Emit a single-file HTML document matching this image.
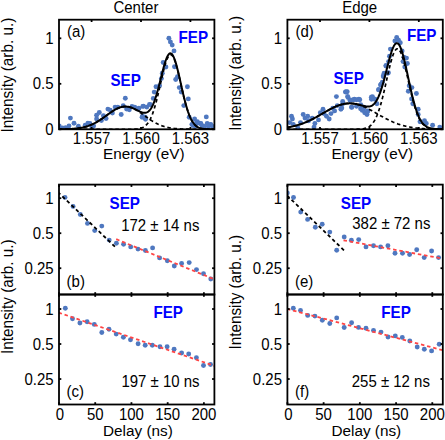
<!DOCTYPE html>
<html><head><meta charset="utf-8"><style>
html,body{margin:0;padding:0;background:#fff;width:445px;height:440px;overflow:hidden}
svg{display:block}
text{font-family:"Liberation Sans", sans-serif}
</style></head><body>
<svg width="445" height="440" viewBox="0 0 445 440">
<rect width="445" height="440" fill="#fff"/>
<text transform="translate(135.90,13.00) scale(1,1.12)" font-size="15" text-anchor="middle" fill="#000" >Center</text>
<text transform="translate(359.65,12.60) scale(1,1.12)" font-size="15" text-anchor="middle" fill="#000" >Edge</text>
<clipPath id="clipS0"><rect x="59.0" y="19.7" width="155.4" height="109.60000000000001"/></clipPath>
<g clip-path="url(#clipS0)">
<circle cx="59.2" cy="125.9" r="2.45" fill="#4f78c0"/>
<circle cx="62.3" cy="128.0" r="2.45" fill="#4f78c0"/>
<circle cx="65.6" cy="127.6" r="2.45" fill="#4f78c0"/>
<circle cx="69.0" cy="125.9" r="2.45" fill="#4f78c0"/>
<circle cx="70.4" cy="118.1" r="2.45" fill="#4f78c0"/>
<circle cx="74.0" cy="123.3" r="2.45" fill="#4f78c0"/>
<circle cx="78.4" cy="126.2" r="2.45" fill="#4f78c0"/>
<circle cx="85.2" cy="125.3" r="2.45" fill="#4f78c0"/>
<circle cx="87.9" cy="123.3" r="2.45" fill="#4f78c0"/>
<circle cx="89.9" cy="123.5" r="2.45" fill="#4f78c0"/>
<circle cx="91.9" cy="128.0" r="2.45" fill="#4f78c0"/>
<circle cx="93.6" cy="125.9" r="2.45" fill="#4f78c0"/>
<circle cx="96.6" cy="115.2" r="2.45" fill="#4f78c0"/>
<circle cx="99.3" cy="112.5" r="2.45" fill="#4f78c0"/>
<circle cx="96.6" cy="118.9" r="2.45" fill="#4f78c0"/>
<circle cx="101.4" cy="120.6" r="2.45" fill="#4f78c0"/>
<circle cx="103.4" cy="115.8" r="2.45" fill="#4f78c0"/>
<circle cx="106.1" cy="118.5" r="2.45" fill="#4f78c0"/>
<circle cx="107.9" cy="109.1" r="2.45" fill="#4f78c0"/>
<circle cx="110.2" cy="110.1" r="2.45" fill="#4f78c0"/>
<circle cx="112.4" cy="113.1" r="2.45" fill="#4f78c0"/>
<circle cx="115.1" cy="107.1" r="2.45" fill="#4f78c0"/>
<circle cx="117.8" cy="107.1" r="2.45" fill="#4f78c0"/>
<circle cx="121.2" cy="114.5" r="2.45" fill="#4f78c0"/>
<circle cx="123.2" cy="105.7" r="2.45" fill="#4f78c0"/>
<circle cx="125.3" cy="98.3" r="2.45" fill="#4f78c0"/>
<circle cx="126.6" cy="109.1" r="2.45" fill="#4f78c0"/>
<circle cx="129.3" cy="109.8" r="2.45" fill="#4f78c0"/>
<circle cx="132.0" cy="106.4" r="2.45" fill="#4f78c0"/>
<circle cx="134.7" cy="107.1" r="2.45" fill="#4f78c0"/>
<circle cx="138.1" cy="109.1" r="2.45" fill="#4f78c0"/>
<circle cx="138.9" cy="108.3" r="2.45" fill="#4f78c0"/>
<circle cx="142.8" cy="106.4" r="2.45" fill="#4f78c0"/>
<circle cx="142.1" cy="117.2" r="2.45" fill="#4f78c0"/>
<circle cx="143.4" cy="106.1" r="2.45" fill="#4f78c0"/>
<circle cx="145.2" cy="117.2" r="2.45" fill="#4f78c0"/>
<circle cx="146.8" cy="107.1" r="2.45" fill="#4f78c0"/>
<circle cx="149.5" cy="104.4" r="2.45" fill="#4f78c0"/>
<circle cx="145.5" cy="119.2" r="2.45" fill="#4f78c0"/>
<circle cx="150.6" cy="104.7" r="2.45" fill="#4f78c0"/>
<circle cx="153.3" cy="98.4" r="2.45" fill="#4f78c0"/>
<circle cx="154.2" cy="92.1" r="2.45" fill="#4f78c0"/>
<circle cx="156.0" cy="86.7" r="2.45" fill="#4f78c0"/>
<circle cx="159.6" cy="85.8" r="2.45" fill="#4f78c0"/>
<circle cx="161.4" cy="78.6" r="2.45" fill="#4f78c0"/>
<circle cx="162.3" cy="73.2" r="2.45" fill="#4f78c0"/>
<circle cx="163.2" cy="62.5" r="2.45" fill="#4f78c0"/>
<circle cx="165.9" cy="67.0" r="2.45" fill="#4f78c0"/>
<circle cx="168.9" cy="38.3" r="2.45" fill="#4f78c0"/>
<circle cx="170.4" cy="41.9" r="2.45" fill="#4f78c0"/>
<circle cx="172.2" cy="45.1" r="2.45" fill="#4f78c0"/>
<circle cx="174.0" cy="50.9" r="2.45" fill="#4f78c0"/>
<circle cx="174.5" cy="66.7" r="2.45" fill="#4f78c0"/>
<circle cx="175.7" cy="79.5" r="2.45" fill="#4f78c0"/>
<circle cx="177.5" cy="76.8" r="2.45" fill="#4f78c0"/>
<circle cx="179.3" cy="87.6" r="2.45" fill="#4f78c0"/>
<circle cx="181.2" cy="92.1" r="2.45" fill="#4f78c0"/>
<circle cx="187.4" cy="86.7" r="2.45" fill="#4f78c0"/>
<circle cx="188.3" cy="98.9" r="2.45" fill="#4f78c0"/>
<circle cx="183.8" cy="105.6" r="2.45" fill="#4f78c0"/>
<circle cx="189.2" cy="117.2" r="2.45" fill="#4f78c0"/>
<circle cx="194.6" cy="119.0" r="2.45" fill="#4f78c0"/>
<circle cx="197.3" cy="121.7" r="2.45" fill="#4f78c0"/>
<circle cx="200.9" cy="123.5" r="2.45" fill="#4f78c0"/>
<circle cx="206.3" cy="116.9" r="2.45" fill="#4f78c0"/>
<circle cx="207.2" cy="123.5" r="2.45" fill="#4f78c0"/>
<circle cx="210.8" cy="124.4" r="2.45" fill="#4f78c0"/>
<circle cx="191.9" cy="124.4" r="2.45" fill="#4f78c0"/>
<circle cx="142.5" cy="116.3" r="2.45" fill="#4f78c0"/>
<circle cx="193.1" cy="125.6" r="2.45" fill="#4f78c0"/>
<circle cx="199.6" cy="123.2" r="2.45" fill="#4f78c0"/>
<circle cx="202.0" cy="125.6" r="2.45" fill="#4f78c0"/>
<circle cx="204.5" cy="126.4" r="2.45" fill="#4f78c0"/>
<circle cx="210.1" cy="124.8" r="2.45" fill="#4f78c0"/>
<circle cx="212.6" cy="126.4" r="2.45" fill="#4f78c0"/>
<circle cx="196.4" cy="123.2" r="2.45" fill="#4f78c0"/>
<circle cx="195.6" cy="126.4" r="2.45" fill="#4f78c0"/>
<circle cx="208.5" cy="126.4" r="2.45" fill="#4f78c0"/>
<polyline points="58.65,129.25 59.17,129.25 59.69,129.24 60.21,129.24 60.74,129.23 61.26,129.23 61.78,129.22 62.30,129.21 62.82,129.20 63.34,129.19 63.87,129.18 64.39,129.17 64.91,129.16 65.43,129.15 65.95,129.13 66.47,129.12 66.99,129.10 67.52,129.09 68.04,129.07 68.56,129.05 69.08,129.02 69.60,129.00 70.12,128.98 70.65,128.95 71.17,128.92 71.69,128.89 72.21,128.86 72.73,128.82 73.25,128.78 73.77,128.74 74.30,128.70 74.82,128.65 75.34,128.60 75.86,128.55 76.38,128.50 76.90,128.44 77.43,128.37 77.95,128.31 78.47,128.24 78.99,128.16 79.51,128.08 80.03,128.00 80.56,127.91 81.08,127.82 81.60,127.72 82.12,127.62 82.64,127.51 83.16,127.40 83.68,127.28 84.21,127.15 84.73,127.02 85.25,126.88 85.77,126.74 86.29,126.59 86.81,126.43 87.34,126.27 87.86,126.09 88.38,125.92 88.90,125.73 89.42,125.54 89.94,125.34 90.46,125.13 90.99,124.91 91.51,124.69 92.03,124.46 92.55,124.22 93.07,123.98 93.59,123.72 94.12,123.46 94.64,123.19 95.16,122.92 95.68,122.63 96.20,122.34 96.72,122.04 97.24,121.74 97.77,121.42 98.29,121.10 98.81,120.78 99.33,120.45 99.85,120.11 100.37,119.77 100.90,119.42 101.42,119.06 101.94,118.70 102.46,118.34 102.98,117.98 103.50,117.61 104.02,117.23 104.55,116.86 105.07,116.48 105.59,116.10 106.11,115.72 106.63,115.34 107.15,114.96 107.68,114.58 108.20,114.21 108.72,113.83 109.24,113.46 109.76,113.09 110.28,112.72 110.80,112.36 111.33,112.01 111.85,111.66 112.37,111.31 112.89,110.98 113.41,110.65 113.93,110.33 114.46,110.02 114.98,109.72 115.50,109.43 116.02,109.15 116.54,108.88 117.06,108.63 117.59,108.39 118.11,108.16 118.63,107.94 119.15,107.74 119.67,107.55 120.19,107.38 120.71,107.22 121.24,107.08 121.76,106.96 122.28,106.85 122.80,106.76 123.32,106.68 123.84,106.62 124.37,106.58 124.89,106.56 125.41,106.55 125.93,106.56 126.45,106.59 126.97,106.63 127.49,106.69 128.02,106.77 128.54,106.87 129.06,106.98 129.58,107.11 130.10,107.25 130.62,107.41 131.15,107.59 131.67,107.78 132.19,107.98 132.71,108.20 133.23,108.44 133.75,108.68 134.27,108.94 134.80,109.21 135.32,109.49 135.84,109.78 136.36,110.08 136.88,110.40 137.40,110.72 137.93,111.05 138.45,111.39 138.97,111.73 139.49,112.08 140.01,112.44 140.53,112.80 141.05,113.17 141.58,113.54 142.10,113.91 142.62,114.28 143.14,114.66 143.66,115.04 144.18,115.42 144.71,115.80 145.23,116.18 145.75,116.56 146.27,116.94 146.79,117.31 147.31,117.68 147.84,118.05 148.36,118.42 148.88,118.78 149.40,119.14 149.92,119.49 150.44,119.84 150.96,120.18 151.49,120.52 152.01,120.85 152.53,121.17 153.05,121.49 153.57,121.80 154.09,122.11 154.62,122.40 155.14,122.69 155.66,122.97 156.18,123.25 156.70,123.52 157.22,123.78 157.74,124.03 158.27,124.27 158.79,124.51 159.31,124.74 159.83,124.96 160.35,125.17 160.87,125.38 161.40,125.58 161.92,125.77 162.44,125.95 162.96,126.13 163.48,126.30 164.00,126.46 164.52,126.62 165.05,126.77 165.57,126.91 166.09,127.05 166.61,127.18 167.13,127.30 167.65,127.42 168.18,127.53 168.70,127.64 169.22,127.74 169.74,127.84 170.26,127.93 170.78,128.02 171.30,128.10 171.83,128.18 172.35,128.25 172.87,128.32 173.39,128.39 173.91,128.45 174.43,128.51 174.96,128.56 175.48,128.61 176.00,128.66 176.52,128.71 177.04,128.75 177.56,128.79 178.08,128.83 178.61,128.86 179.13,128.90 179.65,128.93 180.17,128.95 180.69,128.98 181.21,129.01 181.74,129.03 182.26,129.05 182.78,129.07 183.30,129.09 183.82,129.11 184.34,129.12 184.87,129.14 185.39,129.15 185.91,129.16 186.43,129.17 186.95,129.19 187.47,129.19 187.99,129.20 188.52,129.21 189.04,129.22 189.56,129.23 190.08,129.23 190.60,129.24 191.12,129.25 191.65,129.25 192.17,129.25 192.69,129.26 193.21,129.26 193.73,129.27 194.25,129.27 194.77,129.27 195.30,129.28 195.82,129.28 196.34,129.28 196.86,129.28 197.38,129.28 197.90,129.29 198.43,129.29 198.95,129.29 199.47,129.29 199.99,129.29 200.51,129.29 201.03,129.29 201.55,129.29 202.08,129.29 202.60,129.29 203.12,129.30 203.64,129.30 204.16,129.30 204.68,129.30 205.21,129.30 205.73,129.30 206.25,129.30 206.77,129.30 207.29,129.30 207.81,129.30 208.33,129.30 208.86,129.30 209.38,129.30 209.90,129.30 210.42,129.30 210.94,129.30 211.46,129.30 211.99,129.30 212.51,129.30 213.03,129.30 213.55,129.30 214.07,129.30 214.59,129.30 215.11,129.30" fill="none" stroke="#000" stroke-width="1.7" stroke-dasharray="3.5,2.8" />
<polyline points="58.65,129.30 59.17,129.30 59.69,129.30 60.21,129.30 60.74,129.30 61.26,129.30 61.78,129.30 62.30,129.30 62.82,129.30 63.34,129.30 63.87,129.30 64.39,129.30 64.91,129.30 65.43,129.30 65.95,129.30 66.47,129.30 66.99,129.30 67.52,129.30 68.04,129.30 68.56,129.30 69.08,129.30 69.60,129.30 70.12,129.30 70.65,129.30 71.17,129.30 71.69,129.30 72.21,129.30 72.73,129.30 73.25,129.30 73.77,129.30 74.30,129.30 74.82,129.30 75.34,129.30 75.86,129.30 76.38,129.30 76.90,129.30 77.43,129.30 77.95,129.30 78.47,129.30 78.99,129.30 79.51,129.30 80.03,129.30 80.56,129.30 81.08,129.30 81.60,129.30 82.12,129.30 82.64,129.30 83.16,129.30 83.68,129.30 84.21,129.30 84.73,129.30 85.25,129.30 85.77,129.30 86.29,129.30 86.81,129.30 87.34,129.30 87.86,129.30 88.38,129.30 88.90,129.30 89.42,129.30 89.94,129.30 90.46,129.30 90.99,129.30 91.51,129.30 92.03,129.30 92.55,129.30 93.07,129.30 93.59,129.30 94.12,129.30 94.64,129.30 95.16,129.30 95.68,129.30 96.20,129.30 96.72,129.30 97.24,129.30 97.77,129.30 98.29,129.30 98.81,129.30 99.33,129.30 99.85,129.30 100.37,129.30 100.90,129.30 101.42,129.30 101.94,129.30 102.46,129.30 102.98,129.30 103.50,129.30 104.02,129.30 104.55,129.30 105.07,129.30 105.59,129.30 106.11,129.30 106.63,129.30 107.15,129.30 107.68,129.30 108.20,129.30 108.72,129.30 109.24,129.30 109.76,129.30 110.28,129.30 110.80,129.30 111.33,129.30 111.85,129.30 112.37,129.30 112.89,129.30 113.41,129.30 113.93,129.30 114.46,129.30 114.98,129.30 115.50,129.30 116.02,129.30 116.54,129.30 117.06,129.30 117.59,129.30 118.11,129.30 118.63,129.30 119.15,129.30 119.67,129.30 120.19,129.30 120.71,129.30 121.24,129.30 121.76,129.30 122.28,129.30 122.80,129.30 123.32,129.30 123.84,129.30 124.37,129.30 124.89,129.30 125.41,129.30 125.93,129.29 126.45,129.29 126.97,129.29 127.49,129.29 128.02,129.29 128.54,129.28 129.06,129.28 129.58,129.28 130.10,129.27 130.62,129.27 131.15,129.26 131.67,129.25 132.19,129.24 132.71,129.22 133.23,129.21 133.75,129.19 134.27,129.17 134.80,129.14 135.32,129.11 135.84,129.08 136.36,129.03 136.88,128.98 137.40,128.93 137.93,128.86 138.45,128.78 138.97,128.69 139.49,128.59 140.01,128.47 140.53,128.34 141.05,128.18 141.58,128.00 142.10,127.80 142.62,127.57 143.14,127.32 143.66,127.03 144.18,126.70 144.71,126.34 145.23,125.93 145.75,125.48 146.27,124.98 146.79,124.43 147.31,123.82 147.84,123.14 148.36,122.41 148.88,121.61 149.40,120.73 149.92,119.79 150.44,118.76 150.96,117.65 151.49,116.47 152.01,115.19 152.53,113.84 153.05,112.39 153.57,110.86 154.09,109.24 154.62,107.54 155.14,105.75 155.66,103.89 156.18,101.94 156.70,99.93 157.22,97.85 157.74,95.71 158.27,93.52 158.79,91.28 159.31,89.01 159.83,86.71 160.35,84.41 160.87,82.10 161.40,79.80 161.92,77.52 162.44,75.28 162.96,73.09 163.48,70.96 164.00,68.91 164.52,66.95 165.05,65.10 165.57,63.36 166.09,61.75 166.61,60.28 167.13,58.97 167.65,57.82 168.18,56.83 168.70,56.03 169.22,55.41 169.74,54.97 170.26,54.73 170.78,54.69 171.30,54.84 171.83,55.18 172.35,55.71 172.87,56.43 173.39,57.33 173.91,58.40 174.43,59.64 174.96,61.04 175.48,62.58 176.00,64.26 176.52,66.06 177.04,67.97 177.56,69.98 178.08,72.07 178.61,74.23 179.13,76.45 179.65,78.71 180.17,81.00 180.69,83.31 181.21,85.62 181.74,87.92 182.26,90.21 182.78,92.46 183.30,94.68 183.82,96.84 184.34,98.95 184.87,101.00 185.39,102.98 185.91,104.88 186.43,106.70 186.95,108.45 187.47,110.10 187.99,111.68 188.52,113.16 189.04,114.56 189.56,115.87 190.08,117.10 190.60,118.25 191.12,119.31 191.65,120.29 192.17,121.20 192.69,122.04 193.21,122.80 193.73,123.51 194.25,124.14 194.77,124.72 195.30,125.25 195.82,125.72 196.34,126.15 196.86,126.53 197.38,126.88 197.90,127.18 198.43,127.46 198.95,127.70 199.47,127.91 199.99,128.10 200.51,128.26 201.03,128.41 201.55,128.54 202.08,128.65 202.60,128.74 203.12,128.82 203.64,128.90 204.16,128.96 204.68,129.01 205.21,129.06 205.73,129.10 206.25,129.13 206.77,129.16 207.29,129.18 207.81,129.20 208.33,129.22 208.86,129.23 209.38,129.24 209.90,129.25 210.42,129.26 210.94,129.27 211.46,129.27 211.99,129.28 212.51,129.28 213.03,129.29 213.55,129.29 214.07,129.29 214.59,129.29 215.11,129.29" fill="none" stroke="#000" stroke-width="1.7" stroke-dasharray="3.5,2.8" />
<polyline points="58.65,129.25 59.17,129.25 59.69,129.24 60.21,129.24 60.74,129.23 61.26,129.23 61.78,129.22 62.30,129.21 62.82,129.20 63.34,129.19 63.87,129.18 64.39,129.17 64.91,129.16 65.43,129.15 65.95,129.13 66.47,129.12 66.99,129.10 67.52,129.09 68.04,129.07 68.56,129.05 69.08,129.02 69.60,129.00 70.12,128.98 70.65,128.95 71.17,128.92 71.69,128.89 72.21,128.86 72.73,128.82 73.25,128.78 73.77,128.74 74.30,128.70 74.82,128.65 75.34,128.60 75.86,128.55 76.38,128.50 76.90,128.44 77.43,128.37 77.95,128.31 78.47,128.24 78.99,128.16 79.51,128.08 80.03,128.00 80.56,127.91 81.08,127.82 81.60,127.72 82.12,127.62 82.64,127.51 83.16,127.40 83.68,127.28 84.21,127.15 84.73,127.02 85.25,126.88 85.77,126.74 86.29,126.59 86.81,126.43 87.34,126.27 87.86,126.09 88.38,125.92 88.90,125.73 89.42,125.54 89.94,125.34 90.46,125.13 90.99,124.91 91.51,124.69 92.03,124.46 92.55,124.22 93.07,123.98 93.59,123.72 94.12,123.46 94.64,123.19 95.16,122.92 95.68,122.63 96.20,122.34 96.72,122.04 97.24,121.74 97.77,121.42 98.29,121.10 98.81,120.78 99.33,120.45 99.85,120.11 100.37,119.77 100.90,119.42 101.42,119.06 101.94,118.70 102.46,118.34 102.98,117.98 103.50,117.61 104.02,117.23 104.55,116.86 105.07,116.48 105.59,116.10 106.11,115.72 106.63,115.34 107.15,114.96 107.68,114.58 108.20,114.21 108.72,113.83 109.24,113.46 109.76,113.09 110.28,112.72 110.80,112.36 111.33,112.01 111.85,111.66 112.37,111.31 112.89,110.98 113.41,110.65 113.93,110.33 114.46,110.02 114.98,109.72 115.50,109.43 116.02,109.15 116.54,108.88 117.06,108.63 117.59,108.39 118.11,108.16 118.63,107.94 119.15,107.74 119.67,107.55 120.19,107.38 120.71,107.22 121.24,107.08 121.76,106.96 122.28,106.85 122.80,106.75 123.32,106.68 123.84,106.62 124.37,106.58 124.89,106.55 125.41,106.55 125.93,106.56 126.45,106.58 126.97,106.63 127.49,106.69 128.02,106.76 128.54,106.85 129.06,106.96 129.58,107.09 130.10,107.23 130.62,107.38 131.15,107.55 131.67,107.73 132.19,107.92 132.71,108.13 133.23,108.34 133.75,108.57 134.27,108.81 134.80,109.05 135.32,109.30 135.84,109.56 136.36,109.82 136.88,110.08 137.40,110.35 137.93,110.61 138.45,110.87 138.97,111.12 139.49,111.37 140.01,111.61 140.53,111.83 141.05,112.05 141.58,112.24 142.10,112.41 142.62,112.56 143.14,112.68 143.66,112.77 144.18,112.82 144.71,112.84 145.23,112.81 145.75,112.74 146.27,112.62 146.79,112.44 147.31,112.20 147.84,111.90 148.36,111.53 148.88,111.09 149.40,110.57 149.92,109.98 150.44,109.30 150.96,108.54 151.49,107.68 152.01,106.74 152.53,105.71 153.05,104.58 153.57,103.36 154.09,102.05 154.62,100.64 155.14,99.15 155.66,97.56 156.18,95.89 156.70,94.15 157.22,92.33 157.74,90.44 158.27,88.49 158.79,86.49 159.31,84.45 159.83,82.37 160.35,80.28 160.87,78.18 161.40,76.07 161.92,73.99 162.44,71.93 162.96,69.92 163.48,67.96 164.00,66.07 164.52,64.27 165.05,62.57 165.57,60.97 166.09,59.50 166.61,58.16 167.13,56.97 167.65,55.94 168.18,55.07 168.70,54.37 169.22,53.85 169.74,53.51 170.26,53.36 170.78,53.41 171.30,53.64 171.83,54.06 172.35,54.66 172.87,55.45 173.39,56.42 173.91,57.55 174.43,58.85 174.96,60.30 175.48,61.90 176.00,63.62 176.52,65.47 177.04,67.42 177.56,69.47 178.08,71.60 178.61,73.80 179.13,76.05 179.65,78.34 180.17,80.66 180.69,82.99 181.21,85.33 181.74,87.65 182.26,89.96 182.78,92.23 183.30,94.47 183.82,96.65 184.34,98.77 184.87,100.84 185.39,102.83 185.91,104.74 186.43,106.58 186.95,108.33 187.47,110.00 187.99,111.58 188.52,113.07 189.04,114.48 189.56,115.80 190.08,117.04 190.60,118.19 191.12,119.25 191.65,120.24 192.17,121.16 192.69,122.00 193.21,122.77 193.73,123.47 194.25,124.11 194.77,124.70 195.30,125.22 195.82,125.70 196.34,126.13 196.86,126.52 197.38,126.86 197.90,127.17 198.43,127.44 198.95,127.69 199.47,127.90 199.99,128.09 200.51,128.26 201.03,128.40 201.55,128.53 202.08,128.64 202.60,128.74 203.12,128.82 203.64,128.89 204.16,128.95 204.68,129.01 205.21,129.05 205.73,129.09 206.25,129.13 206.77,129.15 207.29,129.18 207.81,129.20 208.33,129.22 208.86,129.23 209.38,129.24 209.90,129.25 210.42,129.26 210.94,129.27 211.46,129.27 211.99,129.28 212.51,129.28 213.03,129.29 213.55,129.29 214.07,129.29 214.59,129.29 215.11,129.29" fill="none" stroke="#000" stroke-width="2.0" />
</g>
<rect x="59.00" y="19.70" width="155.40" height="109.60" fill="none" stroke="#000" stroke-width="1.8"/>
<line x1="91.59" y1="129.3" x2="91.59" y2="127.00000000000001" stroke="#000" stroke-width="1.8"/>
<line x1="91.59" y1="19.7" x2="91.59" y2="22.0" stroke="#000" stroke-width="1.8"/>
<text transform="translate(91.59,143.70) scale(1,1.12)" font-size="15" text-anchor="middle" fill="#000" >1.557</text>
<line x1="141.00" y1="129.3" x2="141.00" y2="127.00000000000001" stroke="#000" stroke-width="1.8"/>
<line x1="141.00" y1="19.7" x2="141.00" y2="22.0" stroke="#000" stroke-width="1.8"/>
<text transform="translate(141.00,143.70) scale(1,1.12)" font-size="15" text-anchor="middle" fill="#000" >1.560</text>
<line x1="190.41" y1="129.3" x2="190.41" y2="127.00000000000001" stroke="#000" stroke-width="1.8"/>
<line x1="190.41" y1="19.7" x2="190.41" y2="22.0" stroke="#000" stroke-width="1.8"/>
<text transform="translate(190.41,143.70) scale(1,1.12)" font-size="15" text-anchor="middle" fill="#000" >1.563</text>
<line x1="59.0" y1="129.30" x2="61.3" y2="129.30" stroke="#000" stroke-width="1.8"/>
<line x1="214.4" y1="129.30" x2="212.1" y2="129.30" stroke="#000" stroke-width="1.8"/>
<text transform="translate(53.60,134.90) scale(1,1.12)" font-size="15" text-anchor="end" fill="#000" >0</text>
<line x1="59.0" y1="83.80" x2="61.3" y2="83.80" stroke="#000" stroke-width="1.8"/>
<line x1="214.4" y1="83.80" x2="212.1" y2="83.80" stroke="#000" stroke-width="1.8"/>
<text transform="translate(53.60,89.40) scale(1,1.12)" font-size="15" text-anchor="end" fill="#000" >0.5</text>
<line x1="59.0" y1="38.30" x2="61.3" y2="38.30" stroke="#000" stroke-width="1.8"/>
<line x1="214.4" y1="38.30" x2="212.1" y2="38.30" stroke="#000" stroke-width="1.8"/>
<text transform="translate(53.60,43.90) scale(1,1.12)" font-size="15" text-anchor="end" fill="#000" >1</text>
<text transform="translate(143.80,159.40) scale(1,1.0)" font-size="15.3" text-anchor="middle" fill="#000" >Energy (eV)</text>
<text transform="translate(67.00,36.80) scale(1,1.12)" font-size="15" text-anchor="start" fill="#000" >(a)</text>
<clipPath id="clipS1"><rect x="287.4" y="19.7" width="155.40000000000003" height="109.60000000000001"/></clipPath>
<g clip-path="url(#clipS1)">
<circle cx="396.7" cy="37.4" r="2.45" fill="#4f78c0"/>
<circle cx="398.5" cy="40.1" r="2.45" fill="#4f78c0"/>
<circle cx="400.3" cy="42.8" r="2.45" fill="#4f78c0"/>
<circle cx="394.9" cy="41.0" r="2.45" fill="#4f78c0"/>
<circle cx="390.4" cy="49.1" r="2.45" fill="#4f78c0"/>
<circle cx="402.1" cy="50.9" r="2.45" fill="#4f78c0"/>
<circle cx="403.9" cy="57.2" r="2.45" fill="#4f78c0"/>
<circle cx="406.5" cy="58.1" r="2.45" fill="#4f78c0"/>
<circle cx="407.4" cy="63.5" r="2.45" fill="#4f78c0"/>
<circle cx="389.5" cy="56.3" r="2.45" fill="#4f78c0"/>
<circle cx="388.6" cy="61.6" r="2.45" fill="#4f78c0"/>
<circle cx="385.9" cy="66.1" r="2.45" fill="#4f78c0"/>
<circle cx="403.0" cy="61.6" r="2.45" fill="#4f78c0"/>
<circle cx="404.8" cy="67.0" r="2.45" fill="#4f78c0"/>
<circle cx="384.1" cy="73.3" r="2.45" fill="#4f78c0"/>
<circle cx="387.7" cy="73.2" r="2.45" fill="#4f78c0"/>
<circle cx="383.2" cy="75.9" r="2.45" fill="#4f78c0"/>
<circle cx="382.3" cy="82.2" r="2.45" fill="#4f78c0"/>
<circle cx="380.5" cy="84.9" r="2.45" fill="#4f78c0"/>
<circle cx="378.7" cy="89.4" r="2.45" fill="#4f78c0"/>
<circle cx="372.4" cy="96.6" r="2.45" fill="#4f78c0"/>
<circle cx="371.5" cy="99.3" r="2.45" fill="#4f78c0"/>
<circle cx="375.1" cy="99.3" r="2.45" fill="#4f78c0"/>
<circle cx="376.9" cy="103.8" r="2.45" fill="#4f78c0"/>
<circle cx="367.9" cy="110.9" r="2.45" fill="#4f78c0"/>
<circle cx="367.0" cy="114.5" r="2.45" fill="#4f78c0"/>
<circle cx="409.2" cy="85.8" r="2.45" fill="#4f78c0"/>
<circle cx="408.3" cy="91.2" r="2.45" fill="#4f78c0"/>
<circle cx="411.9" cy="87.6" r="2.45" fill="#4f78c0"/>
<circle cx="416.4" cy="93.5" r="2.45" fill="#4f78c0"/>
<circle cx="411.6" cy="98.9" r="2.45" fill="#4f78c0"/>
<circle cx="412.8" cy="103.8" r="2.45" fill="#4f78c0"/>
<circle cx="418.2" cy="109.2" r="2.45" fill="#4f78c0"/>
<circle cx="418.2" cy="114.5" r="2.45" fill="#4f78c0"/>
<circle cx="420.0" cy="121.7" r="2.45" fill="#4f78c0"/>
<circle cx="424.5" cy="120.8" r="2.45" fill="#4f78c0"/>
<circle cx="426.3" cy="123.5" r="2.45" fill="#4f78c0"/>
<circle cx="432.6" cy="125.3" r="2.45" fill="#4f78c0"/>
<circle cx="439.8" cy="127.1" r="2.45" fill="#4f78c0"/>
<circle cx="291.5" cy="116.3" r="2.45" fill="#4f78c0"/>
<circle cx="292.4" cy="119.0" r="2.45" fill="#4f78c0"/>
<circle cx="289.7" cy="122.6" r="2.45" fill="#4f78c0"/>
<circle cx="293.3" cy="124.4" r="2.45" fill="#4f78c0"/>
<circle cx="297.8" cy="128.0" r="2.45" fill="#4f78c0"/>
<circle cx="300.5" cy="122.6" r="2.45" fill="#4f78c0"/>
<circle cx="303.2" cy="114.5" r="2.45" fill="#4f78c0"/>
<circle cx="305.0" cy="118.1" r="2.45" fill="#4f78c0"/>
<circle cx="307.7" cy="116.3" r="2.45" fill="#4f78c0"/>
<circle cx="308.6" cy="120.8" r="2.45" fill="#4f78c0"/>
<circle cx="312.2" cy="118.1" r="2.45" fill="#4f78c0"/>
<circle cx="314.9" cy="123.5" r="2.45" fill="#4f78c0"/>
<circle cx="314.0" cy="127.1" r="2.45" fill="#4f78c0"/>
<circle cx="318.5" cy="119.9" r="2.45" fill="#4f78c0"/>
<circle cx="320.3" cy="112.7" r="2.45" fill="#4f78c0"/>
<circle cx="323.0" cy="109.2" r="2.45" fill="#4f78c0"/>
<circle cx="323.9" cy="113.6" r="2.45" fill="#4f78c0"/>
<circle cx="326.5" cy="116.3" r="2.45" fill="#4f78c0"/>
<circle cx="329.2" cy="119.0" r="2.45" fill="#4f78c0"/>
<circle cx="331.0" cy="113.6" r="2.45" fill="#4f78c0"/>
<circle cx="332.8" cy="108.3" r="2.45" fill="#4f78c0"/>
<circle cx="334.6" cy="110.9" r="2.45" fill="#4f78c0"/>
<circle cx="336.4" cy="96.6" r="2.45" fill="#4f78c0"/>
<circle cx="337.3" cy="105.6" r="2.45" fill="#4f78c0"/>
<circle cx="340.9" cy="109.2" r="2.45" fill="#4f78c0"/>
<circle cx="342.7" cy="103.8" r="2.45" fill="#4f78c0"/>
<circle cx="345.4" cy="92.1" r="2.45" fill="#4f78c0"/>
<circle cx="347.2" cy="91.7" r="2.45" fill="#4f78c0"/>
<circle cx="348.1" cy="97.5" r="2.45" fill="#4f78c0"/>
<circle cx="351.7" cy="107.4" r="2.45" fill="#4f78c0"/>
<circle cx="350.8" cy="100.2" r="2.45" fill="#4f78c0"/>
<circle cx="354.4" cy="99.3" r="2.45" fill="#4f78c0"/>
<circle cx="358.9" cy="99.3" r="2.45" fill="#4f78c0"/>
<circle cx="360.7" cy="104.7" r="2.45" fill="#4f78c0"/>
<circle cx="363.4" cy="109.2" r="2.45" fill="#4f78c0"/>
<circle cx="345.9" cy="91.6" r="2.45" fill="#4f78c0"/>
<circle cx="347.6" cy="96.5" r="2.45" fill="#4f78c0"/>
<circle cx="342.7" cy="101.4" r="2.45" fill="#4f78c0"/>
<circle cx="350.0" cy="100.5" r="2.45" fill="#4f78c0"/>
<circle cx="353.3" cy="99.7" r="2.45" fill="#4f78c0"/>
<circle cx="356.5" cy="99.7" r="2.45" fill="#4f78c0"/>
<circle cx="359.8" cy="99.7" r="2.45" fill="#4f78c0"/>
<circle cx="351.6" cy="107.1" r="2.45" fill="#4f78c0"/>
<circle cx="356.5" cy="106.3" r="2.45" fill="#4f78c0"/>
<circle cx="360.6" cy="108.7" r="2.45" fill="#4f78c0"/>
<circle cx="362.3" cy="110.4" r="2.45" fill="#4f78c0"/>
<circle cx="364.7" cy="112.8" r="2.45" fill="#4f78c0"/>
<circle cx="367.2" cy="112.0" r="2.45" fill="#4f78c0"/>
<circle cx="363.9" cy="107.1" r="2.45" fill="#4f78c0"/>
<circle cx="371.3" cy="97.3" r="2.45" fill="#4f78c0"/>
<circle cx="373.7" cy="98.9" r="2.45" fill="#4f78c0"/>
<circle cx="378.6" cy="89.9" r="2.45" fill="#4f78c0"/>
<circle cx="381.1" cy="84.2" r="2.45" fill="#4f78c0"/>
<circle cx="383.5" cy="76.8" r="2.45" fill="#4f78c0"/>
<circle cx="386.0" cy="65.4" r="2.45" fill="#4f78c0"/>
<circle cx="388.4" cy="72.8" r="2.45" fill="#4f78c0"/>
<circle cx="341.8" cy="107.9" r="2.45" fill="#4f78c0"/>
<polyline points="287.05,127.47 287.57,127.39 288.09,127.30 288.61,127.22 289.14,127.12 289.66,127.03 290.18,126.93 290.70,126.83 291.22,126.73 291.74,126.62 292.27,126.51 292.79,126.39 293.31,126.27 293.83,126.15 294.35,126.03 294.87,125.90 295.39,125.76 295.92,125.62 296.44,125.48 296.96,125.34 297.48,125.19 298.00,125.03 298.52,124.88 299.05,124.72 299.57,124.55 300.09,124.38 300.61,124.20 301.13,124.03 301.65,123.84 302.17,123.66 302.70,123.47 303.22,123.27 303.74,123.07 304.26,122.87 304.78,122.66 305.30,122.44 305.83,122.23 306.35,122.01 306.87,121.78 307.39,121.55 307.91,121.32 308.43,121.08 308.96,120.84 309.48,120.60 310.00,120.35 310.52,120.10 311.04,119.84 311.56,119.58 312.08,119.32 312.61,119.05 313.13,118.78 313.65,118.51 314.17,118.23 314.69,117.95 315.21,117.67 315.74,117.39 316.26,117.10 316.78,116.81 317.30,116.52 317.82,116.23 318.34,115.94 318.86,115.64 319.39,115.34 319.91,115.04 320.43,114.74 320.95,114.44 321.47,114.14 321.99,113.84 322.52,113.54 323.04,113.24 323.56,112.93 324.08,112.63 324.60,112.33 325.12,112.03 325.64,111.74 326.17,111.44 326.69,111.14 327.21,110.85 327.73,110.56 328.25,110.27 328.77,109.98 329.30,109.70 329.82,109.42 330.34,109.14 330.86,108.87 331.38,108.60 331.90,108.34 332.42,108.08 332.95,107.82 333.47,107.57 333.99,107.33 334.51,107.09 335.03,106.85 335.55,106.62 336.08,106.40 336.60,106.18 337.12,105.98 337.64,105.77 338.16,105.58 338.68,105.39 339.20,105.21 339.73,105.03 340.25,104.87 340.77,104.71 341.29,104.56 341.81,104.42 342.33,104.28 342.86,104.16 343.38,104.04 343.90,103.94 344.42,103.84 344.94,103.75 345.46,103.67 345.99,103.60 346.51,103.54 347.03,103.48 347.55,103.44 348.07,103.41 348.59,103.38 349.11,103.37 349.64,103.37 350.16,103.37 350.68,103.38 351.20,103.41 351.72,103.44 352.24,103.48 352.77,103.54 353.29,103.60 353.81,103.67 354.33,103.75 354.85,103.84 355.37,103.94 355.89,104.04 356.42,104.16 356.94,104.28 357.46,104.42 357.98,104.56 358.50,104.71 359.02,104.87 359.55,105.03 360.07,105.21 360.59,105.39 361.11,105.58 361.63,105.77 362.15,105.98 362.67,106.18 363.20,106.40 363.72,106.62 364.24,106.85 364.76,107.09 365.28,107.33 365.80,107.57 366.33,107.82 366.85,108.08 367.37,108.34 367.89,108.60 368.41,108.87 368.93,109.14 369.45,109.42 369.98,109.70 370.50,109.98 371.02,110.27 371.54,110.56 372.06,110.85 372.58,111.14 373.11,111.44 373.63,111.74 374.15,112.03 374.67,112.33 375.19,112.63 375.71,112.93 376.24,113.24 376.76,113.54 377.28,113.84 377.80,114.14 378.32,114.44 378.84,114.74 379.36,115.04 379.89,115.34 380.41,115.64 380.93,115.94 381.45,116.23 381.97,116.52 382.49,116.81 383.02,117.10 383.54,117.39 384.06,117.67 384.58,117.95 385.10,118.23 385.62,118.51 386.14,118.78 386.67,119.05 387.19,119.32 387.71,119.58 388.23,119.84 388.75,120.10 389.27,120.35 389.80,120.60 390.32,120.84 390.84,121.08 391.36,121.32 391.88,121.55 392.40,121.78 392.92,122.01 393.45,122.23 393.97,122.44 394.49,122.66 395.01,122.87 395.53,123.07 396.05,123.27 396.58,123.47 397.10,123.66 397.62,123.84 398.14,124.03 398.66,124.20 399.18,124.38 399.70,124.55 400.23,124.72 400.75,124.88 401.27,125.03 401.79,125.19 402.31,125.34 402.83,125.48 403.36,125.62 403.88,125.76 404.40,125.90 404.92,126.03 405.44,126.15 405.96,126.27 406.48,126.39 407.01,126.51 407.53,126.62 408.05,126.73 408.57,126.83 409.09,126.93 409.61,127.03 410.14,127.12 410.66,127.22 411.18,127.30 411.70,127.39 412.22,127.47 412.74,127.55 413.27,127.63 413.79,127.70 414.31,127.77 414.83,127.84 415.35,127.91 415.87,127.97 416.39,128.03 416.92,128.09 417.44,128.15 417.96,128.20 418.48,128.25 419.00,128.30 419.52,128.35 420.05,128.40 420.57,128.44 421.09,128.48 421.61,128.52 422.13,128.56 422.65,128.60 423.17,128.63 423.70,128.67 424.22,128.70 424.74,128.73 425.26,128.76 425.78,128.79 426.30,128.82 426.83,128.84 427.35,128.87 427.87,128.89 428.39,128.91 428.91,128.93 429.43,128.95 429.95,128.97 430.48,128.99 431.00,129.01 431.52,129.02 432.04,129.04 432.56,129.05 433.08,129.07 433.61,129.08 434.13,129.09 434.65,129.11 435.17,129.12 435.69,129.13 436.21,129.14 436.73,129.15 437.26,129.16 437.78,129.17 438.30,129.17 438.82,129.18 439.34,129.19 439.86,129.20 440.39,129.20 440.91,129.21 441.43,129.21 441.95,129.22 442.47,129.22 442.99,129.23 443.51,129.23" fill="none" stroke="#000" stroke-width="1.7" stroke-dasharray="3.5,2.8" />
<polyline points="287.05,129.30 287.57,129.30 288.09,129.30 288.61,129.30 289.14,129.30 289.66,129.30 290.18,129.30 290.70,129.30 291.22,129.30 291.74,129.30 292.27,129.30 292.79,129.30 293.31,129.30 293.83,129.30 294.35,129.30 294.87,129.30 295.39,129.30 295.92,129.30 296.44,129.30 296.96,129.30 297.48,129.30 298.00,129.30 298.52,129.30 299.05,129.30 299.57,129.30 300.09,129.30 300.61,129.30 301.13,129.30 301.65,129.30 302.17,129.30 302.70,129.30 303.22,129.30 303.74,129.30 304.26,129.30 304.78,129.30 305.30,129.30 305.83,129.30 306.35,129.30 306.87,129.30 307.39,129.30 307.91,129.30 308.43,129.30 308.96,129.30 309.48,129.30 310.00,129.30 310.52,129.30 311.04,129.30 311.56,129.30 312.08,129.30 312.61,129.30 313.13,129.30 313.65,129.30 314.17,129.30 314.69,129.30 315.21,129.30 315.74,129.30 316.26,129.30 316.78,129.30 317.30,129.30 317.82,129.30 318.34,129.30 318.86,129.30 319.39,129.30 319.91,129.30 320.43,129.30 320.95,129.30 321.47,129.30 321.99,129.30 322.52,129.30 323.04,129.30 323.56,129.30 324.08,129.30 324.60,129.30 325.12,129.30 325.64,129.30 326.17,129.30 326.69,129.30 327.21,129.30 327.73,129.30 328.25,129.30 328.77,129.30 329.30,129.30 329.82,129.30 330.34,129.30 330.86,129.30 331.38,129.30 331.90,129.30 332.42,129.30 332.95,129.30 333.47,129.30 333.99,129.30 334.51,129.30 335.03,129.30 335.55,129.30 336.08,129.30 336.60,129.30 337.12,129.30 337.64,129.30 338.16,129.30 338.68,129.30 339.20,129.30 339.73,129.30 340.25,129.30 340.77,129.30 341.29,129.30 341.81,129.30 342.33,129.30 342.86,129.30 343.38,129.30 343.90,129.30 344.42,129.30 344.94,129.30 345.46,129.30 345.99,129.30 346.51,129.30 347.03,129.30 347.55,129.30 348.07,129.30 348.59,129.30 349.11,129.30 349.64,129.29 350.16,129.29 350.68,129.29 351.20,129.29 351.72,129.29 352.24,129.29 352.77,129.28 353.29,129.28 353.81,129.27 354.33,129.27 354.85,129.26 355.37,129.25 355.89,129.25 356.42,129.23 356.94,129.22 357.46,129.21 357.98,129.19 358.50,129.17 359.02,129.14 359.55,129.11 360.07,129.08 360.59,129.04 361.11,128.99 361.63,128.94 362.15,128.88 362.67,128.81 363.20,128.73 363.72,128.64 364.24,128.53 364.76,128.41 365.28,128.28 365.80,128.12 366.33,127.95 366.85,127.75 367.37,127.53 367.89,127.28 368.41,127.00 368.93,126.69 369.45,126.34 369.98,125.96 370.50,125.53 371.02,125.06 371.54,124.54 372.06,123.98 372.58,123.35 373.11,122.67 373.63,121.93 374.15,121.12 374.67,120.25 375.19,119.31 375.71,118.29 376.24,117.20 376.76,116.03 377.28,114.78 377.80,113.45 378.32,112.04 378.84,110.54 379.36,108.96 379.89,107.30 380.41,105.56 380.93,103.74 381.45,101.85 381.97,99.88 382.49,97.84 383.02,95.74 383.54,93.59 384.06,91.38 384.58,89.12 385.10,86.83 385.62,84.51 386.14,82.18 386.67,79.84 387.19,77.50 387.71,75.17 388.23,72.87 388.75,70.61 389.27,68.39 389.80,66.24 390.32,64.17 390.84,62.17 391.36,60.28 391.88,58.50 392.40,56.84 392.92,55.31 393.45,53.92 393.97,52.68 394.49,51.60 395.01,50.69 395.53,49.94 396.05,49.38 396.58,49.00 397.10,48.80 397.62,48.78 398.14,48.95 398.66,49.31 399.18,49.84 399.70,50.56 400.23,51.44 400.75,52.50 401.27,53.71 401.79,55.08 402.31,56.59 402.83,58.23 403.36,59.99 403.88,61.87 404.40,63.84 404.92,65.91 405.44,68.05 405.96,70.25 406.48,72.51 407.01,74.81 407.53,77.13 408.05,79.47 408.57,81.81 409.09,84.15 409.61,86.47 410.14,88.76 410.66,91.02 411.18,93.24 411.70,95.41 412.22,97.52 412.74,99.56 413.27,101.54 413.79,103.45 414.31,105.28 414.83,107.03 415.35,108.71 415.87,110.30 416.39,111.81 416.92,113.23 417.44,114.57 417.96,115.84 418.48,117.02 419.00,118.12 419.52,119.15 420.05,120.11 420.57,120.99 421.09,121.81 421.61,122.56 422.13,123.25 422.65,123.88 423.17,124.46 423.70,124.98 424.22,125.46 424.74,125.89 425.26,126.28 425.78,126.64 426.30,126.95 426.83,127.24 427.35,127.49 427.87,127.72 428.39,127.92 428.91,128.09 429.43,128.25 429.95,128.39 430.48,128.51 431.00,128.62 431.52,128.72 432.04,128.80 432.56,128.87 433.08,128.93 433.61,128.99 434.13,129.03 434.65,129.07 435.17,129.11 435.69,129.14 436.21,129.16 436.73,129.18 437.26,129.20 437.78,129.22 438.30,129.23 438.82,129.24 439.34,129.25 439.86,129.26 440.39,129.27 440.91,129.27 441.43,129.28 441.95,129.28 442.47,129.29 442.99,129.29 443.51,129.29" fill="none" stroke="#000" stroke-width="1.7" stroke-dasharray="3.5,2.8" />
<polyline points="287.05,127.47 287.57,127.39 288.09,127.30 288.61,127.22 289.14,127.12 289.66,127.03 290.18,126.93 290.70,126.83 291.22,126.73 291.74,126.62 292.27,126.51 292.79,126.39 293.31,126.27 293.83,126.15 294.35,126.03 294.87,125.90 295.39,125.76 295.92,125.62 296.44,125.48 296.96,125.34 297.48,125.19 298.00,125.03 298.52,124.88 299.05,124.72 299.57,124.55 300.09,124.38 300.61,124.20 301.13,124.03 301.65,123.84 302.17,123.66 302.70,123.47 303.22,123.27 303.74,123.07 304.26,122.87 304.78,122.66 305.30,122.44 305.83,122.23 306.35,122.01 306.87,121.78 307.39,121.55 307.91,121.32 308.43,121.08 308.96,120.84 309.48,120.60 310.00,120.35 310.52,120.10 311.04,119.84 311.56,119.58 312.08,119.32 312.61,119.05 313.13,118.78 313.65,118.51 314.17,118.23 314.69,117.95 315.21,117.67 315.74,117.39 316.26,117.10 316.78,116.81 317.30,116.52 317.82,116.23 318.34,115.94 318.86,115.64 319.39,115.34 319.91,115.04 320.43,114.74 320.95,114.44 321.47,114.14 321.99,113.84 322.52,113.54 323.04,113.24 323.56,112.93 324.08,112.63 324.60,112.33 325.12,112.03 325.64,111.74 326.17,111.44 326.69,111.14 327.21,110.85 327.73,110.56 328.25,110.27 328.77,109.98 329.30,109.70 329.82,109.42 330.34,109.14 330.86,108.87 331.38,108.60 331.90,108.34 332.42,108.08 332.95,107.82 333.47,107.57 333.99,107.33 334.51,107.09 335.03,106.85 335.55,106.62 336.08,106.40 336.60,106.18 337.12,105.98 337.64,105.77 338.16,105.58 338.68,105.39 339.20,105.21 339.73,105.03 340.25,104.87 340.77,104.71 341.29,104.56 341.81,104.42 342.33,104.28 342.86,104.16 343.38,104.04 343.90,103.94 344.42,103.84 344.94,103.75 345.46,103.67 345.99,103.60 346.51,103.53 347.03,103.48 347.55,103.44 348.07,103.41 348.59,103.38 349.11,103.37 349.64,103.36 350.16,103.36 350.68,103.38 351.20,103.40 351.72,103.43 352.24,103.47 352.77,103.52 353.29,103.58 353.81,103.64 354.33,103.72 354.85,103.80 355.37,103.89 355.89,103.99 356.42,104.09 356.94,104.21 357.46,104.32 357.98,104.45 358.50,104.58 359.02,104.71 359.55,104.85 360.07,104.99 360.59,105.13 361.11,105.27 361.63,105.41 362.15,105.56 362.67,105.69 363.20,105.83 363.72,105.96 364.24,106.08 364.76,106.20 365.28,106.30 365.80,106.39 366.33,106.47 366.85,106.53 367.37,106.57 367.89,106.58 368.41,106.57 368.93,106.53 369.45,106.46 369.98,106.36 370.50,106.22 371.02,106.03 371.54,105.80 372.06,105.53 372.58,105.20 373.11,104.81 373.63,104.36 374.15,103.86 374.67,103.28 375.19,102.64 375.71,101.92 376.24,101.13 376.76,100.27 377.28,99.32 377.80,98.29 378.32,97.18 378.84,95.98 379.36,94.71 379.89,93.35 380.41,91.90 380.93,90.38 381.45,88.78 381.97,87.10 382.49,85.36 383.02,83.55 383.54,81.67 384.06,79.75 384.58,77.78 385.10,75.76 385.62,73.72 386.14,71.66 386.67,69.59 387.19,67.51 387.71,65.45 388.23,63.41 388.75,61.40 389.27,59.44 389.80,57.54 390.32,55.71 390.84,53.96 391.36,52.30 391.88,50.75 392.40,49.32 392.92,48.01 393.45,46.85 393.97,45.82 394.49,44.96 395.01,44.25 395.53,43.71 396.05,43.35 396.58,43.16 397.10,43.15 397.62,43.32 398.14,43.68 398.66,44.21 399.18,44.92 399.70,45.81 400.23,46.86 400.75,48.07 401.27,49.45 401.79,50.97 402.31,52.62 402.83,54.41 403.36,56.32 403.88,58.33 404.40,60.44 404.92,62.63 405.44,64.90 405.96,67.23 406.48,69.60 407.01,72.01 407.53,74.45 408.05,76.89 408.57,79.34 409.09,81.78 409.61,84.20 410.14,86.59 410.66,88.94 411.18,91.24 411.70,93.50 412.22,95.69 412.74,97.81 413.27,99.87 413.79,101.85 414.31,103.75 414.83,105.58 415.35,107.31 415.87,108.97 416.39,110.54 416.92,112.02 417.44,113.42 417.96,114.74 418.48,115.97 419.00,117.13 419.52,118.20 420.05,119.20 420.57,120.13 421.09,120.99 421.61,121.78 422.13,122.51 422.65,123.18 423.17,123.79 423.70,124.35 424.22,124.86 424.74,125.32 425.26,125.74 425.78,126.12 426.30,126.47 426.83,126.78 427.35,127.05 427.87,127.30 428.39,127.53 428.91,127.73 429.43,127.90 429.95,128.06 430.48,128.20 431.00,128.33 431.52,128.44 432.04,128.54 432.56,128.62 433.08,128.70 433.61,128.77 434.13,128.83 434.65,128.88 435.17,128.92 435.69,128.97 436.21,129.00 436.73,129.03 437.26,129.06 437.78,129.08 438.30,129.11 438.82,129.12 439.34,129.14 439.86,129.16 440.39,129.17 440.91,129.18 441.43,129.19 441.95,129.20 442.47,129.21 442.99,129.22 443.51,129.22" fill="none" stroke="#000" stroke-width="2.0" />
</g>
<rect x="287.40" y="19.70" width="155.40" height="109.60" fill="none" stroke="#000" stroke-width="1.8"/>
<line x1="319.99" y1="129.3" x2="319.99" y2="127.00000000000001" stroke="#000" stroke-width="1.8"/>
<line x1="319.99" y1="19.7" x2="319.99" y2="22.0" stroke="#000" stroke-width="1.8"/>
<text transform="translate(319.99,143.70) scale(1,1.12)" font-size="15" text-anchor="middle" fill="#000" >1.557</text>
<line x1="369.40" y1="129.3" x2="369.40" y2="127.00000000000001" stroke="#000" stroke-width="1.8"/>
<line x1="369.40" y1="19.7" x2="369.40" y2="22.0" stroke="#000" stroke-width="1.8"/>
<text transform="translate(369.40,143.70) scale(1,1.12)" font-size="15" text-anchor="middle" fill="#000" >1.560</text>
<line x1="418.81" y1="129.3" x2="418.81" y2="127.00000000000001" stroke="#000" stroke-width="1.8"/>
<line x1="418.81" y1="19.7" x2="418.81" y2="22.0" stroke="#000" stroke-width="1.8"/>
<text transform="translate(418.81,143.70) scale(1,1.12)" font-size="15" text-anchor="middle" fill="#000" >1.563</text>
<line x1="287.4" y1="129.30" x2="289.7" y2="129.30" stroke="#000" stroke-width="1.8"/>
<line x1="442.8" y1="129.30" x2="440.5" y2="129.30" stroke="#000" stroke-width="1.8"/>
<text transform="translate(282.00,134.90) scale(1,1.12)" font-size="15" text-anchor="end" fill="#000" >0</text>
<line x1="287.4" y1="83.80" x2="289.7" y2="83.80" stroke="#000" stroke-width="1.8"/>
<line x1="442.8" y1="83.80" x2="440.5" y2="83.80" stroke="#000" stroke-width="1.8"/>
<text transform="translate(282.00,89.40) scale(1,1.12)" font-size="15" text-anchor="end" fill="#000" >0.5</text>
<line x1="287.4" y1="38.30" x2="289.7" y2="38.30" stroke="#000" stroke-width="1.8"/>
<line x1="442.8" y1="38.30" x2="440.5" y2="38.30" stroke="#000" stroke-width="1.8"/>
<text transform="translate(282.00,43.90) scale(1,1.12)" font-size="15" text-anchor="end" fill="#000" >1</text>
<text transform="translate(372.20,159.40) scale(1,1.0)" font-size="15.3" text-anchor="middle" fill="#000" >Energy (eV)</text>
<text transform="translate(295.40,36.80) scale(1,1.12)" font-size="15" text-anchor="start" fill="#000" >(d)</text>
<text transform="translate(125.60,86.00) scale(1,1.12)" font-size="15.2" text-anchor="middle" font-weight="bold" fill="#00f" >SEP</text>
<text transform="translate(193.30,42.80) scale(1,1.12)" font-size="15.2" text-anchor="middle" font-weight="bold" fill="#00f" >FEP</text>
<text transform="translate(348.60,84.00) scale(1,1.12)" font-size="15.2" text-anchor="middle" font-weight="bold" fill="#00f" >SEP</text>
<text transform="translate(421.70,40.50) scale(1,1.12)" font-size="15.2" text-anchor="middle" font-weight="bold" fill="#00f" >FEP</text>
<text transform="translate(13.0,75.05) rotate(-90) scale(1,1.04)" font-size="15.3" text-anchor="middle">Intensity (arb. u.)</text>
<text transform="translate(13.0,296.7) rotate(-90) scale(1,1.04)" font-size="15.3" text-anchor="middle">Intensity (arb. u.)</text>
<text transform="translate(241.1,73.3) rotate(-90) scale(1,1.04)" font-size="15.3" text-anchor="middle">Intensity (arb. u.)</text>
<text transform="translate(241.1,292.25) rotate(-90) scale(1,1.04)" font-size="15.3" text-anchor="middle">Intensity (arb. u.)</text>
<clipPath id="clipb"><rect x="59.0" y="184.6" width="155.4" height="109.9"/></clipPath>
<g clip-path="url(#clipb)">
<circle cx="65.0" cy="197.4" r="2.45" fill="#4f78c0"/>
<circle cx="73.1" cy="206.4" r="2.45" fill="#4f78c0"/>
<circle cx="80.3" cy="214.5" r="2.45" fill="#4f78c0"/>
<circle cx="87.5" cy="223.4" r="2.45" fill="#4f78c0"/>
<circle cx="94.7" cy="230.6" r="2.45" fill="#4f78c0"/>
<circle cx="101.8" cy="226.1" r="2.45" fill="#4f78c0"/>
<circle cx="109.2" cy="240.1" r="2.45" fill="#4f78c0"/>
<circle cx="116.4" cy="243.2" r="2.45" fill="#4f78c0"/>
<circle cx="123.6" cy="244.2" r="2.45" fill="#4f78c0"/>
<circle cx="130.7" cy="246.9" r="2.45" fill="#4f78c0"/>
<circle cx="138.0" cy="249.1" r="2.45" fill="#4f78c0"/>
<circle cx="145.4" cy="250.5" r="2.45" fill="#4f78c0"/>
<circle cx="152.6" cy="247.9" r="2.45" fill="#4f78c0"/>
<circle cx="159.6" cy="257.9" r="2.45" fill="#4f78c0"/>
<circle cx="167.3" cy="260.8" r="2.45" fill="#4f78c0"/>
<circle cx="174.3" cy="266.0" r="2.45" fill="#4f78c0"/>
<circle cx="181.6" cy="263.4" r="2.45" fill="#4f78c0"/>
<circle cx="189.2" cy="262.6" r="2.45" fill="#4f78c0"/>
<circle cx="196.5" cy="269.6" r="2.45" fill="#4f78c0"/>
<circle cx="203.5" cy="273.8" r="2.45" fill="#4f78c0"/>
<circle cx="210.8" cy="279.0" r="2.45" fill="#4f78c0"/>
<polyline points="57.80,192.00 116.90,248.60" fill="none" stroke="#000" stroke-width="1.8" stroke-dasharray="3.5,2.8" />
<polyline points="116.20,239.20 214.30,279.30" fill="none" stroke="#ff4545" stroke-width="1.8" stroke-dasharray="3.5,2.8" />
</g>
<rect x="59.00" y="184.60" width="155.40" height="109.90" fill="none" stroke="#000" stroke-width="1.8"/>
<line x1="59.00" y1="294.5" x2="59.00" y2="292.2" stroke="#000" stroke-width="1.8"/>
<line x1="59.00" y1="184.6" x2="59.00" y2="186.9" stroke="#000" stroke-width="1.8"/>
<line x1="95.22" y1="294.5" x2="95.22" y2="292.2" stroke="#000" stroke-width="1.8"/>
<line x1="95.22" y1="184.6" x2="95.22" y2="186.9" stroke="#000" stroke-width="1.8"/>
<line x1="131.45" y1="294.5" x2="131.45" y2="292.2" stroke="#000" stroke-width="1.8"/>
<line x1="131.45" y1="184.6" x2="131.45" y2="186.9" stroke="#000" stroke-width="1.8"/>
<line x1="167.68" y1="294.5" x2="167.68" y2="292.2" stroke="#000" stroke-width="1.8"/>
<line x1="167.68" y1="184.6" x2="167.68" y2="186.9" stroke="#000" stroke-width="1.8"/>
<line x1="203.90" y1="294.5" x2="203.90" y2="292.2" stroke="#000" stroke-width="1.8"/>
<line x1="203.90" y1="184.6" x2="203.90" y2="186.9" stroke="#000" stroke-width="1.8"/>
<line x1="59.0" y1="198.20" x2="61.3" y2="198.20" stroke="#000" stroke-width="1.8"/>
<line x1="214.4" y1="198.20" x2="212.1" y2="198.20" stroke="#000" stroke-width="1.8"/>
<text transform="translate(53.60,204.40) scale(1,1.12)" font-size="15" text-anchor="end" fill="#000" >1</text>
<line x1="59.0" y1="233.21" x2="61.3" y2="233.21" stroke="#000" stroke-width="1.8"/>
<line x1="214.4" y1="233.21" x2="212.1" y2="233.21" stroke="#000" stroke-width="1.8"/>
<text transform="translate(53.60,239.41) scale(1,1.12)" font-size="15" text-anchor="end" fill="#000" >0.5</text>
<line x1="59.0" y1="268.22" x2="61.3" y2="268.22" stroke="#000" stroke-width="1.8"/>
<line x1="214.4" y1="268.22" x2="212.1" y2="268.22" stroke="#000" stroke-width="1.8"/>
<text transform="translate(53.60,274.42) scale(1,1.12)" font-size="15" text-anchor="end" fill="#000" >0.25</text>
<clipPath id="clipc"><rect x="59.0" y="294.5" width="155.4" height="110.0"/></clipPath>
<g clip-path="url(#clipc)">
<circle cx="65.3" cy="308.2" r="2.45" fill="#4f78c0"/>
<circle cx="72.5" cy="318.8" r="2.45" fill="#4f78c0"/>
<circle cx="79.9" cy="323.0" r="2.45" fill="#4f78c0"/>
<circle cx="87.1" cy="321.7" r="2.45" fill="#4f78c0"/>
<circle cx="94.3" cy="324.4" r="2.45" fill="#4f78c0"/>
<circle cx="101.8" cy="332.5" r="2.45" fill="#4f78c0"/>
<circle cx="109.0" cy="329.3" r="2.45" fill="#4f78c0"/>
<circle cx="116.2" cy="334.1" r="2.45" fill="#4f78c0"/>
<circle cx="123.4" cy="337.3" r="2.45" fill="#4f78c0"/>
<circle cx="130.5" cy="339.8" r="2.45" fill="#4f78c0"/>
<circle cx="138.1" cy="343.7" r="2.45" fill="#4f78c0"/>
<circle cx="145.2" cy="345.3" r="2.45" fill="#4f78c0"/>
<circle cx="152.3" cy="345.3" r="2.45" fill="#4f78c0"/>
<circle cx="160.0" cy="346.7" r="2.45" fill="#4f78c0"/>
<circle cx="167.1" cy="346.7" r="2.45" fill="#4f78c0"/>
<circle cx="174.1" cy="349.3" r="2.45" fill="#4f78c0"/>
<circle cx="181.6" cy="353.0" r="2.45" fill="#4f78c0"/>
<circle cx="188.7" cy="354.0" r="2.45" fill="#4f78c0"/>
<circle cx="196.4" cy="357.8" r="2.45" fill="#4f78c0"/>
<circle cx="203.5" cy="365.5" r="2.45" fill="#4f78c0"/>
<circle cx="210.5" cy="364.5" r="2.45" fill="#4f78c0"/>
<polyline points="58.60,312.60 214.30,365.80" fill="none" stroke="#ff4545" stroke-width="1.8" stroke-dasharray="3.5,2.8" />
</g>
<rect x="59.00" y="294.50" width="155.40" height="110.00" fill="none" stroke="#000" stroke-width="1.8"/>
<line x1="59.00" y1="404.5" x2="59.00" y2="402.2" stroke="#000" stroke-width="1.8"/>
<line x1="59.00" y1="294.5" x2="59.00" y2="296.8" stroke="#000" stroke-width="1.8"/>
<text transform="translate(60.00,420.00) scale(1,1.12)" font-size="15" text-anchor="middle" fill="#000" >0</text>
<line x1="95.22" y1="404.5" x2="95.22" y2="402.2" stroke="#000" stroke-width="1.8"/>
<line x1="95.22" y1="294.5" x2="95.22" y2="296.8" stroke="#000" stroke-width="1.8"/>
<text transform="translate(95.22,420.00) scale(1,1.12)" font-size="15" text-anchor="middle" fill="#000" >50</text>
<line x1="131.45" y1="404.5" x2="131.45" y2="402.2" stroke="#000" stroke-width="1.8"/>
<line x1="131.45" y1="294.5" x2="131.45" y2="296.8" stroke="#000" stroke-width="1.8"/>
<text transform="translate(131.45,420.00) scale(1,1.12)" font-size="15" text-anchor="middle" fill="#000" >100</text>
<line x1="167.68" y1="404.5" x2="167.68" y2="402.2" stroke="#000" stroke-width="1.8"/>
<line x1="167.68" y1="294.5" x2="167.68" y2="296.8" stroke="#000" stroke-width="1.8"/>
<text transform="translate(167.68,420.00) scale(1,1.12)" font-size="15" text-anchor="middle" fill="#000" >150</text>
<line x1="203.90" y1="404.5" x2="203.90" y2="402.2" stroke="#000" stroke-width="1.8"/>
<line x1="203.90" y1="294.5" x2="203.90" y2="296.8" stroke="#000" stroke-width="1.8"/>
<text transform="translate(203.90,420.00) scale(1,1.12)" font-size="15" text-anchor="middle" fill="#000" >200</text>
<line x1="59.0" y1="309.00" x2="61.3" y2="309.00" stroke="#000" stroke-width="1.8"/>
<line x1="214.4" y1="309.00" x2="212.1" y2="309.00" stroke="#000" stroke-width="1.8"/>
<text transform="translate(53.60,315.20) scale(1,1.12)" font-size="15" text-anchor="end" fill="#000" >1</text>
<line x1="59.0" y1="344.01" x2="61.3" y2="344.01" stroke="#000" stroke-width="1.8"/>
<line x1="214.4" y1="344.01" x2="212.1" y2="344.01" stroke="#000" stroke-width="1.8"/>
<text transform="translate(53.60,350.21) scale(1,1.12)" font-size="15" text-anchor="end" fill="#000" >0.5</text>
<line x1="59.0" y1="379.02" x2="61.3" y2="379.02" stroke="#000" stroke-width="1.8"/>
<line x1="214.4" y1="379.02" x2="212.1" y2="379.02" stroke="#000" stroke-width="1.8"/>
<text transform="translate(53.60,385.22) scale(1,1.12)" font-size="15" text-anchor="end" fill="#000" >0.25</text>
<text transform="translate(137.90,436.20) scale(1,1.0)" font-size="15.3" text-anchor="middle" fill="#000" >Delay (ns)</text>
<clipPath id="clipe"><rect x="287.4" y="184.6" width="155.40000000000003" height="109.9"/></clipPath>
<g clip-path="url(#clipe)">
<circle cx="287.3" cy="193.0" r="2.45" fill="#4f78c0"/>
<circle cx="293.5" cy="197.5" r="2.45" fill="#4f78c0"/>
<circle cx="300.7" cy="212.1" r="2.45" fill="#4f78c0"/>
<circle cx="307.6" cy="219.4" r="2.45" fill="#4f78c0"/>
<circle cx="315.3" cy="227.2" r="2.45" fill="#4f78c0"/>
<circle cx="322.2" cy="224.3" r="2.45" fill="#4f78c0"/>
<circle cx="329.8" cy="232.1" r="2.45" fill="#4f78c0"/>
<circle cx="336.7" cy="250.3" r="2.45" fill="#4f78c0"/>
<circle cx="344.2" cy="237.0" r="2.45" fill="#4f78c0"/>
<circle cx="351.4" cy="240.3" r="2.45" fill="#4f78c0"/>
<circle cx="358.7" cy="239.6" r="2.45" fill="#4f78c0"/>
<circle cx="366.0" cy="246.9" r="2.45" fill="#4f78c0"/>
<circle cx="373.5" cy="245.8" r="2.45" fill="#4f78c0"/>
<circle cx="380.6" cy="246.9" r="2.45" fill="#4f78c0"/>
<circle cx="387.9" cy="245.8" r="2.45" fill="#4f78c0"/>
<circle cx="395.0" cy="253.3" r="2.45" fill="#4f78c0"/>
<circle cx="402.5" cy="253.3" r="2.45" fill="#4f78c0"/>
<circle cx="409.6" cy="254.5" r="2.45" fill="#4f78c0"/>
<circle cx="416.7" cy="249.8" r="2.45" fill="#4f78c0"/>
<circle cx="424.2" cy="257.6" r="2.45" fill="#4f78c0"/>
<circle cx="431.6" cy="251.0" r="2.45" fill="#4f78c0"/>
<circle cx="438.6" cy="257.6" r="2.45" fill="#4f78c0"/>
<polyline points="287.00,195.40 345.80,252.10" fill="none" stroke="#000" stroke-width="1.8" stroke-dasharray="3.5,2.8" />
<polyline points="343.50,240.30 442.70,258.60" fill="none" stroke="#ff4545" stroke-width="1.8" stroke-dasharray="3.5,2.8" />
</g>
<rect x="287.40" y="184.60" width="155.40" height="109.90" fill="none" stroke="#000" stroke-width="1.8"/>
<line x1="287.40" y1="294.5" x2="287.40" y2="292.2" stroke="#000" stroke-width="1.8"/>
<line x1="287.40" y1="184.6" x2="287.40" y2="186.9" stroke="#000" stroke-width="1.8"/>
<line x1="323.62" y1="294.5" x2="323.62" y2="292.2" stroke="#000" stroke-width="1.8"/>
<line x1="323.62" y1="184.6" x2="323.62" y2="186.9" stroke="#000" stroke-width="1.8"/>
<line x1="359.85" y1="294.5" x2="359.85" y2="292.2" stroke="#000" stroke-width="1.8"/>
<line x1="359.85" y1="184.6" x2="359.85" y2="186.9" stroke="#000" stroke-width="1.8"/>
<line x1="396.08" y1="294.5" x2="396.08" y2="292.2" stroke="#000" stroke-width="1.8"/>
<line x1="396.08" y1="184.6" x2="396.08" y2="186.9" stroke="#000" stroke-width="1.8"/>
<line x1="432.30" y1="294.5" x2="432.30" y2="292.2" stroke="#000" stroke-width="1.8"/>
<line x1="432.30" y1="184.6" x2="432.30" y2="186.9" stroke="#000" stroke-width="1.8"/>
<line x1="287.4" y1="198.20" x2="289.7" y2="198.20" stroke="#000" stroke-width="1.8"/>
<line x1="442.8" y1="198.20" x2="440.5" y2="198.20" stroke="#000" stroke-width="1.8"/>
<text transform="translate(282.00,204.40) scale(1,1.12)" font-size="15" text-anchor="end" fill="#000" >1</text>
<line x1="287.4" y1="233.21" x2="289.7" y2="233.21" stroke="#000" stroke-width="1.8"/>
<line x1="442.8" y1="233.21" x2="440.5" y2="233.21" stroke="#000" stroke-width="1.8"/>
<text transform="translate(282.00,239.41) scale(1,1.12)" font-size="15" text-anchor="end" fill="#000" >0.5</text>
<line x1="287.4" y1="268.22" x2="289.7" y2="268.22" stroke="#000" stroke-width="1.8"/>
<line x1="442.8" y1="268.22" x2="440.5" y2="268.22" stroke="#000" stroke-width="1.8"/>
<text transform="translate(282.00,274.42) scale(1,1.12)" font-size="15" text-anchor="end" fill="#000" >0.25</text>
<clipPath id="clipf"><rect x="287.4" y="294.5" width="155.40000000000003" height="110.0"/></clipPath>
<g clip-path="url(#clipf)">
<circle cx="293.3" cy="308.2" r="2.45" fill="#4f78c0"/>
<circle cx="300.5" cy="310.4" r="2.45" fill="#4f78c0"/>
<circle cx="307.7" cy="315.4" r="2.45" fill="#4f78c0"/>
<circle cx="314.9" cy="316.1" r="2.45" fill="#4f78c0"/>
<circle cx="322.3" cy="320.3" r="2.45" fill="#4f78c0"/>
<circle cx="329.8" cy="323.5" r="2.45" fill="#4f78c0"/>
<circle cx="336.7" cy="317.9" r="2.45" fill="#4f78c0"/>
<circle cx="344.2" cy="327.5" r="2.45" fill="#4f78c0"/>
<circle cx="351.6" cy="322.8" r="2.45" fill="#4f78c0"/>
<circle cx="358.5" cy="327.4" r="2.45" fill="#4f78c0"/>
<circle cx="366.0" cy="328.2" r="2.45" fill="#4f78c0"/>
<circle cx="373.5" cy="330.4" r="2.45" fill="#4f78c0"/>
<circle cx="381.0" cy="332.1" r="2.45" fill="#4f78c0"/>
<circle cx="388.0" cy="337.0" r="2.45" fill="#4f78c0"/>
<circle cx="395.3" cy="335.9" r="2.45" fill="#4f78c0"/>
<circle cx="402.3" cy="337.4" r="2.45" fill="#4f78c0"/>
<circle cx="409.8" cy="341.0" r="2.45" fill="#4f78c0"/>
<circle cx="417.2" cy="347.0" r="2.45" fill="#4f78c0"/>
<circle cx="424.3" cy="349.2" r="2.45" fill="#4f78c0"/>
<circle cx="431.6" cy="350.9" r="2.45" fill="#4f78c0"/>
<circle cx="439.2" cy="344.2" r="2.45" fill="#4f78c0"/>
<polyline points="287.00,308.90 442.70,350.20" fill="none" stroke="#ff4545" stroke-width="1.8" stroke-dasharray="3.5,2.8" />
</g>
<rect x="287.40" y="294.50" width="155.40" height="110.00" fill="none" stroke="#000" stroke-width="1.8"/>
<line x1="287.40" y1="404.5" x2="287.40" y2="402.2" stroke="#000" stroke-width="1.8"/>
<line x1="287.40" y1="294.5" x2="287.40" y2="296.8" stroke="#000" stroke-width="1.8"/>
<text transform="translate(288.40,420.00) scale(1,1.12)" font-size="15" text-anchor="middle" fill="#000" >0</text>
<line x1="323.62" y1="404.5" x2="323.62" y2="402.2" stroke="#000" stroke-width="1.8"/>
<line x1="323.62" y1="294.5" x2="323.62" y2="296.8" stroke="#000" stroke-width="1.8"/>
<text transform="translate(323.62,420.00) scale(1,1.12)" font-size="15" text-anchor="middle" fill="#000" >50</text>
<line x1="359.85" y1="404.5" x2="359.85" y2="402.2" stroke="#000" stroke-width="1.8"/>
<line x1="359.85" y1="294.5" x2="359.85" y2="296.8" stroke="#000" stroke-width="1.8"/>
<text transform="translate(359.85,420.00) scale(1,1.12)" font-size="15" text-anchor="middle" fill="#000" >100</text>
<line x1="396.08" y1="404.5" x2="396.08" y2="402.2" stroke="#000" stroke-width="1.8"/>
<line x1="396.08" y1="294.5" x2="396.08" y2="296.8" stroke="#000" stroke-width="1.8"/>
<text transform="translate(396.08,420.00) scale(1,1.12)" font-size="15" text-anchor="middle" fill="#000" >150</text>
<line x1="432.30" y1="404.5" x2="432.30" y2="402.2" stroke="#000" stroke-width="1.8"/>
<line x1="432.30" y1="294.5" x2="432.30" y2="296.8" stroke="#000" stroke-width="1.8"/>
<text transform="translate(432.30,420.00) scale(1,1.12)" font-size="15" text-anchor="middle" fill="#000" >200</text>
<line x1="287.4" y1="309.00" x2="289.7" y2="309.00" stroke="#000" stroke-width="1.8"/>
<line x1="442.8" y1="309.00" x2="440.5" y2="309.00" stroke="#000" stroke-width="1.8"/>
<text transform="translate(282.00,315.20) scale(1,1.12)" font-size="15" text-anchor="end" fill="#000" >1</text>
<line x1="287.4" y1="344.01" x2="289.7" y2="344.01" stroke="#000" stroke-width="1.8"/>
<line x1="442.8" y1="344.01" x2="440.5" y2="344.01" stroke="#000" stroke-width="1.8"/>
<text transform="translate(282.00,350.21) scale(1,1.12)" font-size="15" text-anchor="end" fill="#000" >0.5</text>
<line x1="287.4" y1="379.02" x2="289.7" y2="379.02" stroke="#000" stroke-width="1.8"/>
<line x1="442.8" y1="379.02" x2="440.5" y2="379.02" stroke="#000" stroke-width="1.8"/>
<text transform="translate(282.00,385.22) scale(1,1.12)" font-size="15" text-anchor="end" fill="#000" >0.25</text>
<text transform="translate(366.30,436.20) scale(1,1.0)" font-size="15.3" text-anchor="middle" fill="#000" >Delay (ns)</text>
<text transform="translate(124.80,209.40) scale(1,1.12)" font-size="15.2" text-anchor="middle" font-weight="bold" fill="#00f" >SEP</text>
<text transform="translate(160.30,231.10) scale(1,1.12)" font-size="15" text-anchor="middle" fill="#000" >172 ± 14 ns</text>
<text transform="translate(168.20,318.00) scale(1,1.12)" font-size="15.2" text-anchor="middle" font-weight="bold" fill="#00f" >FEP</text>
<text transform="translate(160.50,386.50) scale(1,1.12)" font-size="15" text-anchor="middle" fill="#000" >197 ± 10 ns</text>
<text transform="translate(66.60,397.00) scale(1,1.12)" font-size="15" text-anchor="start" fill="#000" >(c)</text>
<text transform="translate(66.60,286.50) scale(1,1.12)" font-size="15" text-anchor="start" fill="#000" >(b)</text>
<text transform="translate(356.00,209.40) scale(1,1.12)" font-size="15.2" text-anchor="middle" font-weight="bold" fill="#00f" >SEP</text>
<text transform="translate(391.35,229.10) scale(1,1.12)" font-size="15" text-anchor="middle" fill="#000" >382 ± 72 ns</text>
<text transform="translate(396.00,318.00) scale(1,1.12)" font-size="15.2" text-anchor="middle" font-weight="bold" fill="#00f" >FEP</text>
<text transform="translate(390.85,386.50) scale(1,1.12)" font-size="15" text-anchor="middle" fill="#000" >255 ± 12 ns</text>
<text transform="translate(295.00,397.00) scale(1,1.12)" font-size="15" text-anchor="start" fill="#000" >(f)</text>
<text transform="translate(295.00,286.50) scale(1,1.12)" font-size="15" text-anchor="start" fill="#000" >(e)</text>
</svg>
</body></html>
